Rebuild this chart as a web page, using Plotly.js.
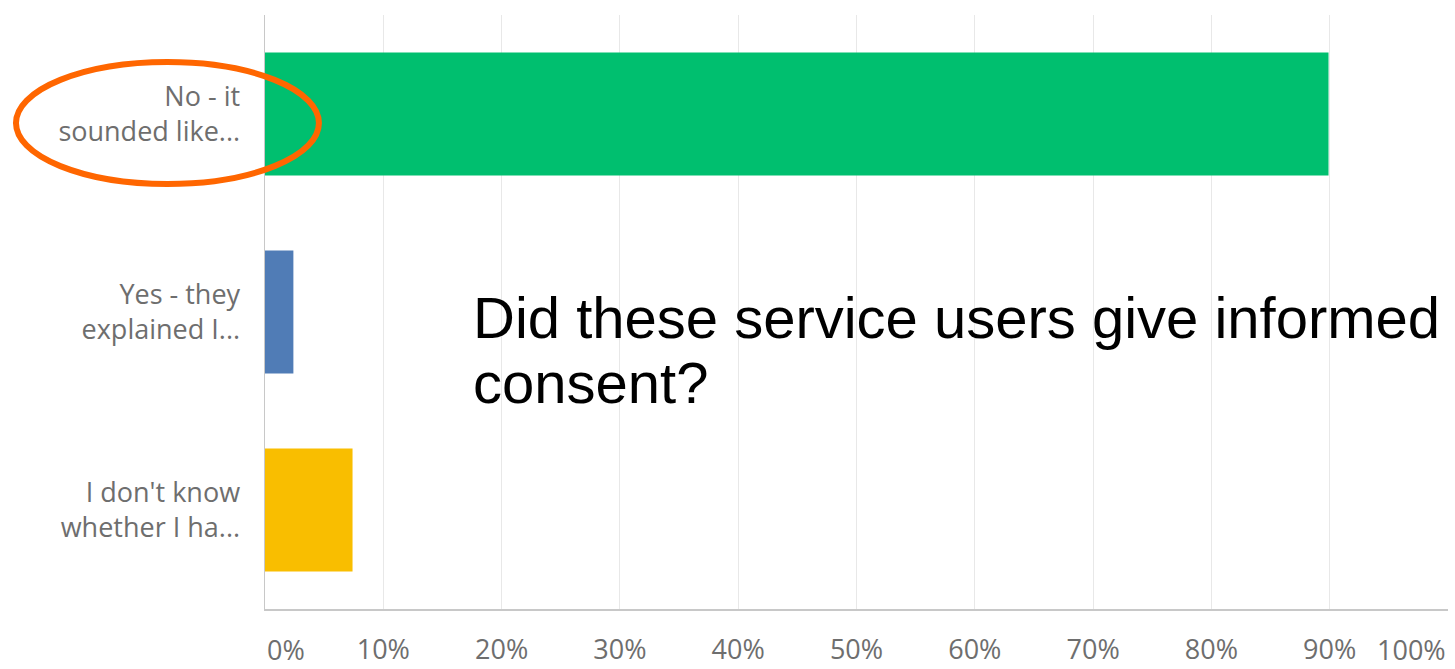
<!DOCTYPE html>
<html>
<head>
<meta charset="utf-8">
<script src="https://cdn.plot.ly/plotly-3.0.1.min.js"></script>
<style>
html,body{margin:0;padding:0;background:#fff;}
#chart{width:1455px;height:669px;}
</style>
</head>
<body>
<div id="chart"></div>
<script>
const categories = ["No - it<br>sounded like...", "Yes - they<br>explained I...", "I don't know<br>whether I ha..."];
const percentValues = [89.9, 2.4, 7.4];
const barColors = ["#00BF6F", "#507CB6", "#F9BE00"];
const tickValues = [0, 10, 20, 30, 40, 50, 60, 70, 80, 90, 100];
const tickLabels = ["0%", "10%", "20%", "30%", "40%", "50%", "60%", "70%", "80%", "90%", "100%"];
const overlayLines = ["Did these service users give informed", "consent?"];

const tickFont = {family: "Open Sans, sans-serif", size: 27, color: "#6e6e6e"};

const trace = {
  type: "bar",
  orientation: "h",
  y: categories,
  x: percentValues,
  marker: {color: barColors},
  hoverinfo: "x+y"
};

const annotations = [];
tickValues.forEach((v, i) => {
  if (v === 0 || v === 100) {
    annotations.push({
      x: v, xref: "x", y: -0.069, yref: "paper",
      text: tickLabels[i], showarrow: false,
      xanchor: v === 0 ? "left" : "right", yanchor: "middle",
      font: tickFont
    });
  }
});
annotations.push({
  x: 0.1745, xref: "paper", y: 0.491, yref: "paper",
  text: overlayLines[0], showarrow: false, xanchor: "left", yanchor: "middle",
  font: {family: "Liberation Sans, Arial, sans-serif", size: 58, color: "#000"}
});
annotations.push({
  x: 0.1745, xref: "paper", y: 0.382, yref: "paper",
  text: overlayLines[1], showarrow: false, xanchor: "left", yanchor: "middle",
  font: {family: "Liberation Sans, Arial, sans-serif", size: 58, color: "#000"}
});

const layout = {
  width: 1455, height: 669,
  margin: {l: 265, r: 7, t: 15, b: 60},
  paper_bgcolor: "#ffffff",
  plot_bgcolor: "#ffffff",
  showlegend: false,
  bargap: 0.38,
  xaxis: {
    range: [0, 100],
    tickvals: tickValues,
    ticktext: tickLabels.map((t, i) => (tickValues[i] === 0 || tickValues[i] === 100) ? "" : t),
    tickfont: tickFont,
    showgrid: true, gridcolor: "#e8e8e8", gridwidth: 1,
    zeroline: false,
    showline: true, linecolor: "#c8c8c8", linewidth: 1.5,
    ticks: "", ticklabelstandoff: 16,
    fixedrange: true
  },
  yaxis: {
    autorange: "reversed",
    tickfont: tickFont,
    showgrid: false, zeroline: false,
    showline: true, linecolor: "#c8c8c8", linewidth: 1.5,
    ticks: "", ticklabelstandoff: 18,
    fixedrange: true
  },
  annotations: annotations,
  shapes: [{
    type: "circle", xref: "paper", yref: "paper",
    x0: -0.2105, x1: 0.0456, y0: 0.7155, y1: 0.9209,
    line: {color: "#FF6600", width: 6},
    layer: "above"
  }]
};

Plotly.newPlot("chart", [trace], layout, {displayModeBar: false, staticPlot: true});
</script>
</body>
</html>
